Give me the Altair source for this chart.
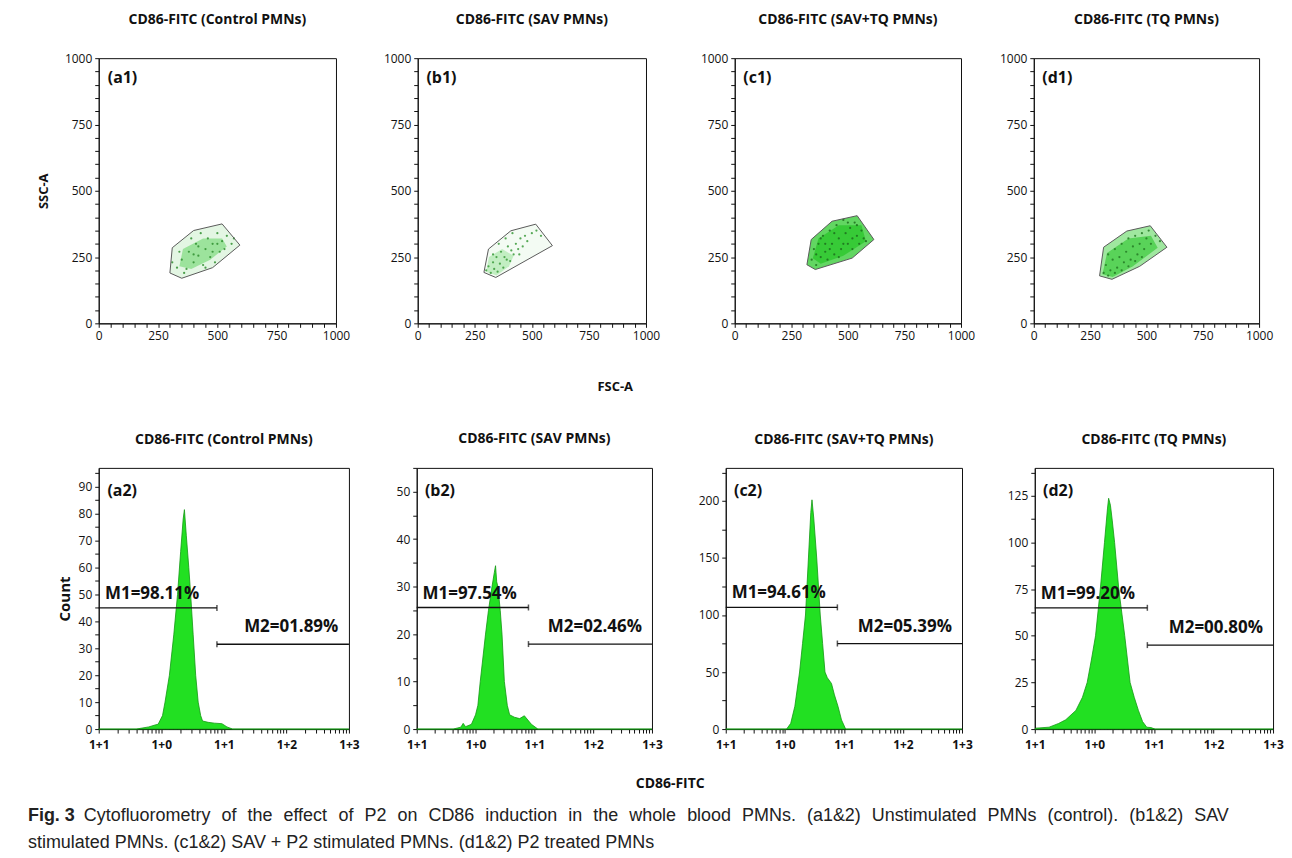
import altair as alt
import numpy as np
import pandas as pd

FONT = "Open Sans"
CAPTION_FONT = "Liberation Sans"

PANEL_TITLES = ["CD86-FITC (Control PMNs)", "CD86-FITC (SAV PMNs)",
                "CD86-FITC (SAV+TQ PMNs)", "CD86-FITC (TQ PMNs)"]
TOP_TAGS = ["(a1)", "(b1)", "(c1)", "(d1)"]
BOTTOM_TAGS = ["(a2)", "(b2)", "(c2)", "(d2)"]

# ---------------- top row: FSC-A / SSC-A gates ----------------
GATE_X = [[300, 310, 400, 520, 595, 480, 350],
          [290, 310, 408, 517, 590, 342],
          [319, 338, 430, 541, 615, 519, 356],
          [292, 310, 413, 517, 591, 470, 347]]
GATE_Y = [[190, 285, 350, 375, 295, 210, 170],
          [192, 280, 349, 374, 293, 173],
          [221, 316, 385, 406, 316, 246, 203],
          [179, 287, 348, 368, 287, 215, 166]]
CORE_X = [[340, 355, 440, 520, 540, 470, 390],
          [300, 312, 370, 420, 400, 345],
          [345, 370, 460, 560, 580, 480, 380],
          [305, 325, 420, 520, 550, 440, 350]]
CORE_Y = [[215, 280, 320, 320, 290, 240, 205],
          [195, 250, 280, 255, 215, 180],
          [245, 320, 370, 370, 310, 255, 225],
          [185, 265, 320, 330, 285, 215, 175]]
DOT_X = [[330, 350, 370, 380, 400, 410, 420, 440, 450, 460, 470, 480, 500, 510, 520,
          540, 560, 340, 390, 430, 360, 450, 490, 530, 570, 310, 400, 420, 480, 500],
         [300, 310, 320, 330, 335, 345, 350, 360, 365, 375, 380, 390, 395, 405, 410,
          420, 430, 440, 450, 460, 470, 480, 500, 520, 540, 330, 355, 385, 415, 445],
         [340, 350, 360, 370, 380, 390, 400, 410, 420, 430, 440, 450, 460, 470, 480, 490,
          500, 510, 520, 530, 540, 550, 560, 570, 580, 360, 380, 400, 420, 440, 460, 480,
          500, 520, 540],
         [310, 320, 330, 340, 350, 360, 370, 380, 390, 400, 410, 420, 430, 440, 450,
          460, 470, 480, 490, 500, 510, 520, 540, 560, 330, 360, 390, 420, 450, 480]]
DOT_Y = [[210, 240, 205, 270, 230, 300, 255, 220, 280, 320, 250, 300, 340, 270, 310,
          330, 300, 270, 320, 340, 190, 210, 230, 280, 320, 230, 260, 290, 270, 300],
         [200, 215, 190, 230, 205, 250, 195, 225, 270, 210, 250, 240, 290, 235, 275,
          260, 300, 280, 320, 290, 330, 310, 340, 350, 330, 260, 300, 320, 340, 260],
         [240, 280, 220, 300, 250, 330, 270, 240, 350, 300, 260, 370, 320, 280, 390, 340,
          300, 360, 280, 380, 330, 300, 350, 320, 310, 260, 320, 300, 280, 340, 250, 300,
          380, 320, 370],
         [190, 220, 260, 200, 240, 280, 210, 250, 300, 230, 270, 320, 240, 290, 330,
          260, 300, 340, 280, 320, 350, 300, 330, 310, 180, 190, 200, 215, 235, 250]]
GATE_FILL = ["#e3f6e3", "#f3fbf3", "#62d662", "#9fe79f"]
CORE_FILL = ["#8fdf8f", "#b9ebb9", "#30c830", "#4ccf4c"]
DOT_COLOR = ["#2f8f2f", "#3a9a3a", "#1d6e1d", "#247a24"]
TAG_TOP_POS = [38, 955]

# ---------------- bottom row: CD86-FITC histograms ----------------
HIST_X = [[-1.0, -0.4, -0.2, -0.1, -0.05, 0.02, 0.06, 0.13, 0.2, 0.26, 0.31, 0.35, 0.37,
           0.40, 0.44, 0.47, 0.51, 0.55, 0.59, 0.63, 0.66, 0.75, 0.85, 0.97, 1.05, 1.14, 3.0],
          [-1.0, -0.38, -0.25, -0.21, -0.17, -0.07, 0.0, 0.04, 0.08, 0.17, 0.22, 0.28, 0.32,
           0.34, 0.36, 0.38, 0.42, 0.45, 0.49, 0.54, 0.58, 0.66, 0.75, 0.83, 0.95, 1.06, 3.0],
          [-1.0, 0.0, 0.03, 0.1, 0.17, 0.25, 0.30, 0.35, 0.40, 0.44, 0.46, 0.49, 0.54, 0.60,
           0.64, 0.68, 0.72, 0.79, 0.84, 0.90, 0.96, 1.03, 3.0],
          [-1.0, -0.98, -0.76, -0.6, -0.48, -0.31, -0.2, -0.12, -0.05, 0.02, 0.10, 0.17, 0.22,
           0.24, 0.27, 0.30, 0.34, 0.41, 0.51, 0.60, 0.67, 0.74, 0.81, 0.88, 0.95, 1.02, 3.0]]
HIST_Y = [[0, 0, 0.8, 1.5, 1.8, 5, 10, 20, 35, 50, 66, 78, 81.5,
           72, 60, 50, 35, 20, 10, 5, 3, 2.5, 2.2, 2, 0.8, 0, 0],
          [0, 0, 0.4, 1.2, 0.5, 1, 3, 5, 10, 20, 25, 30, 33,
           34.4, 31, 30, 25, 20, 10, 5, 3, 2.5, 2.2, 2.8, 1, 0, 0],
          [0, 0, 0, 5, 20, 50, 75, 100, 150, 190, 201, 185, 150, 100,
           75, 50, 45, 40, 30, 20, 8, 0, 0],
          [0, 0.5, 1, 3, 5, 10, 17, 25, 37, 50, 75, 100, 118,
           123.7, 120, 112, 100, 75, 50, 25, 17, 10, 4, 1, 0.8, 0, 0]]
HIST_YMAX = [97, 55, 229, 140]
Y_MAJOR = [10, 10, 50, 25]
Y_MINOR = [5, 5, 25, 12.5]
M1_LEVEL = [45, 25.6, 106.7, 65]
M2_LEVEL = [31.5, 17.9, 75, 45]
M_SPLIT = [0.89, 0.9, 0.89, 0.89]
M1_TEXT = ["M1=98.11%", "M1=97.54%", "M1=94.61%", "M1=99.20%"]
M2_TEXT = ["M2=01.89%", "M2=02.46%", "M2=05.39%", "M2=00.80%"]
DECADES = [-1, 0, 1, 2, 3]
X_LABELS = ["1+1", "1+0", "1+1", "1+2", "1+3"]
HIST_GREEN = "#22e022"
HIST_EDGE = "#139813"

CAPTION_BOLD = "Fig. 3"
CAPTION_LINE1 = ("Cytofluorometry of the effect of P2 on CD86 induction in the whole blood PMNs. "
                 "(a1&2) Unstimulated PMNs (control). (b1&2) SAV")
CAPTION_LINE2 = "stimulated PMNs. (c1&2) SAV + P2 stimulated PMNs. (d1&2) P2 treated PMNs"

TOP_W = [238, 229, 227, 226]
TOP_H = 266
TOP_MINEXT = [0, 56, 63, 47]
BOT_W = [251, 236, 237, 239]
BOT_H = 262
BOT_MINEXT = [0, 46, 52, 51]

# caption layout (page pixels): justified first line, like the source figure
ORIGIN_X = 97
CAP_LEFT = 26
CAP_L1_START = 82
CAP_L1_END = 1232
CAP_FS = 18
ARIAL_W = {" ": 278, "C": 722, "y": 500, "t": 278, "o": 556, "f": 278, "l": 222, "u": 556,
           "r": 333, "m": 833, "e": 556, "h": 556, "c": 500, "P": 667, "2": 556, "n": 556,
           "D": 722, "8": 556, "6": 556, "i": 222, "d": 556, "w": 722, "b": 556, "M": 833,
           "N": 722, "s": 500, ".": 278, "(": 333, "a": 556, "1": 556, "&": 667, ")": 333,
           "U": 722, "S": 667, "A": 667, "V": 667}


def text_w(s, fs):
    return sum(ARIAL_W.get(ch, 556) for ch in s) * fs / 1000.0


def poly(xs, ys):
    n = len(xs)
    return pd.DataFrame({"x": list(xs) + [xs[0]], "y": list(ys) + [ys[0]],
                         "o": list(range(n + 1))})


def scatter_panel(k):
    sx = alt.Scale(domain=[0, 1000], nice=False, zero=False)
    sy = alt.Scale(domain=[0, 1000], nice=False, zero=False)
    ticks = list(range(0, 1001, 50))
    lab = "datum.value % 250 === 0 ? datum.label : ''"
    xaxis = alt.Axis(values=ticks, labelExpr=lab, format="d", title=None, tickSize=4,
                     labelPadding=3, labelFontSize=12, labelFlush=False)
    yargs = dict(values=ticks, labelExpr=lab, format="d", tickSize=4, labelPadding=3,
                 labelFontSize=12)
    if k == 0:
        yargs.update(title="SSC-A", titleFontSize=13, titleFontWeight="bold",
                     titlePadding=14)
    else:
        yargs.update(title=None, minExtent=TOP_MINEXT[k])
    X = alt.X("x:Q", scale=sx, axis=xaxis)
    Y = alt.Y("y:Q", scale=sy, axis=alt.Axis(**yargs))
    gate = poly(GATE_X[k], GATE_Y[k])
    core = poly(CORE_X[k], CORE_Y[k])
    dots = pd.DataFrame({"x": DOT_X[k], "y": DOT_Y[k]})
    tag = pd.DataFrame({"x": [TAG_TOP_POS[0]], "y": [TAG_TOP_POS[1]], "t": [TOP_TAGS[k]]})
    l1 = alt.Chart(gate).mark_line(fill=GATE_FILL[k], strokeOpacity=0).encode(
        x=X, y=Y, order="o:Q")
    l2 = alt.Chart(core).mark_line(fill=CORE_FILL[k], fillOpacity=0.85,
                                   strokeOpacity=0).encode(x=X, y=Y, order="o:Q")
    l3 = alt.Chart(dots).mark_circle(size=5, color=DOT_COLOR[k], opacity=0.85).encode(x=X, y=Y)
    l4 = alt.Chart(gate).mark_line(color="#5a5a5a", strokeWidth=1).encode(
        x=X, y=Y, order="o:Q")
    l5 = alt.Chart(tag).mark_text(align="left", baseline="top", font=FONT,
                                  fontWeight="bold", fontSize=16, color="#111").encode(
        x=X, y=Y, text="t:N")
    return alt.layer(l1, l2, l3, l4, l5).properties(
        width=TOP_W[k], height=TOP_H,
        title=alt.TitleParams(PANEL_TITLES[k], offset=25, fontSize=14,
                              fontWeight="bold", anchor="middle"))


def hist_panel(k):
    ymax = HIST_YMAX[k]
    sx = alt.Scale(domain=[-1, 3], nice=False, zero=False)
    sy = alt.Scale(domain=[0, ymax], nice=False)
    xticks = sorted(set([round(d + float(np.log10(m)), 4)
                         for d in range(-1, 3) for m in range(1, 10)] + [3]))
    xlab = " : ".join(f"datum.value === {v} ? '{l}'" for v, l in zip(DECADES, X_LABELS)) + " : ''"
    xaxis = alt.Axis(values=xticks, labelExpr=xlab, title=None, tickSize=4,
                     labelPadding=6, labelFontSize=12, labelFontWeight="bold",
                     labelFlush=False)
    yticks = [float(v) for v in np.arange(0, ymax + 1e-9, Y_MINOR[k])]
    ylab = f"datum.value % {Y_MAJOR[k]} === 0 ? datum.label : ''"
    yargs = dict(values=yticks, labelExpr=ylab, tickSize=4, labelPadding=3,
                 labelFontSize=12)
    if k == 0:
        yargs.update(title="Count", titleFontSize=15, titleFontWeight="bold",
                     titlePadding=6)
    else:
        yargs.update(title=None, minExtent=BOT_MINEXT[k])
    X = alt.X("x:Q", scale=sx, axis=xaxis)
    Y = alt.Y("y:Q", scale=sy, axis=alt.Axis(**yargs))
    hdf = pd.DataFrame({"x": HIST_X[k], "y": HIST_Y[k]})
    rdf = pd.DataFrame({"x": [-1, M_SPLIT[k]], "x2": [M_SPLIT[k], 3],
                        "y": [M1_LEVEL[k], M2_LEVEL[k]]})
    tdf = pd.DataFrame({"x": [M_SPLIT[k], M_SPLIT[k]], "y": [M1_LEVEL[k], M2_LEVEL[k]]})
    m1 = pd.DataFrame({"x": [-0.9], "y": [M1_LEVEL[k]], "t": [M1_TEXT[k]]})
    m2 = pd.DataFrame({"x": [2.83], "y": [M2_LEVEL[k]], "t": [M2_TEXT[k]]})
    tag = pd.DataFrame({"x": [-0.86], "y": [ymax * (1 - 15 / BOT_H)], "t": [BOTTOM_TAGS[k]]})
    area = alt.Chart(hdf).mark_area(fill=HIST_GREEN, stroke=HIST_EDGE,
                                    strokeWidth=0.8).encode(x=X, y=Y)
    rules = alt.Chart(rdf).mark_rule(color="#111", strokeWidth=1.3).encode(
        x=X, x2="x2:Q", y=Y)
    caps = alt.Chart(tdf).mark_tick(orient="vertical", size=6, thickness=1.5,
                                    color="#111").encode(x=X, y=Y)
    t1 = alt.Chart(m1).mark_text(align="left", baseline="bottom", dy=-5, font=FONT,
                                 fontWeight="bold", fontSize=17, color="#111").encode(
        x=X, y=Y, text="t:N")
    t2 = alt.Chart(m2).mark_text(align="right", baseline="bottom", dy=-8, font=FONT,
                                 fontWeight="bold", fontSize=17, color="#111").encode(
        x=X, y=Y, text="t:N")
    t3 = alt.Chart(tag).mark_text(align="left", baseline="top", font=FONT,
                                  fontWeight="bold", fontSize=16, color="#111").encode(
        x=X, y=Y, text="t:N")
    return alt.layer(area, rules, caps, t1, t2, t3).properties(
        width=BOT_W[k], height=BOT_H,
        title=alt.TitleParams(PANEL_TITLES[k], offset=21, fontSize=14,
                              fontWeight="bold", anchor="middle"))


top = alt.hconcat(*[scatter_panel(k) for k in range(4)], spacing=10).properties(
    title=alt.TitleParams("FSC-A", orient="bottom", anchor="middle", fontSize=13,
                          fontWeight="bold", offset=39, dx=-40))
bottom = alt.hconcat(*[hist_panel(k) for k in range(4)], spacing=10).properties(
    title=alt.TitleParams("CD86-FITC", orient="bottom", anchor="middle", fontSize=14,
                          fontWeight="bold", offset=27))

# caption: bold lead, justified first line (word by word), ragged second line
words = CAPTION_LINE1.split(" ")
wid = [text_w(w, CAP_FS) for w in words]
gap = (CAP_L1_END - CAP_L1_START - sum(wid)) / (len(words) - 1)
wx, cur = [], CAP_L1_START
for w in wid:
    wx.append(cur - ORIGIN_X)
    cur += w + gap
line1_df = pd.DataFrame({"t": words, "px": wx, "py": [15] * len(words)})
bold_df = pd.DataFrame({"t": [CAPTION_BOLD], "px": [CAP_LEFT - ORIGIN_X], "py": [15]})
line2_df = pd.DataFrame({"t": [CAPTION_LINE2], "px": [CAP_LEFT - ORIGIN_X], "py": [42]})


def cap_text(df, weight):
    return alt.Chart(df).mark_text(
        align="left", baseline="alphabetic", font=CAPTION_FONT, fontWeight=weight,
        fontSize=CAP_FS, color="#222").encode(
        text="t:N", x=alt.X("px:Q", scale=None, axis=None),
        y=alt.Y("py:Q", scale=None, axis=None))


caption = alt.layer(cap_text(bold_df, "bold"), cap_text(line1_df, "normal"),
                    cap_text(line2_df, "normal")).properties(
    width=1100, height=40, view=alt.ViewBackground(strokeOpacity=0))

chart = alt.vconcat(alt.vconcat(top, bottom, spacing=38), caption, spacing=14).properties(
    padding={"left": 20, "top": 3, "right": 0, "bottom": 0}
).configure(font=FONT).configure_view(
    stroke="#111", strokeWidth=1
).configure_axis(
    grid=False, domainColor="#111", tickColor="#111", labelColor="#111",
    titleColor="#111", labelFont=FONT, titleFont=FONT
).configure_title(font=FONT, color="#111")

chart.save("out.html", embed_options={"renderer": "svg", "actions": False})
